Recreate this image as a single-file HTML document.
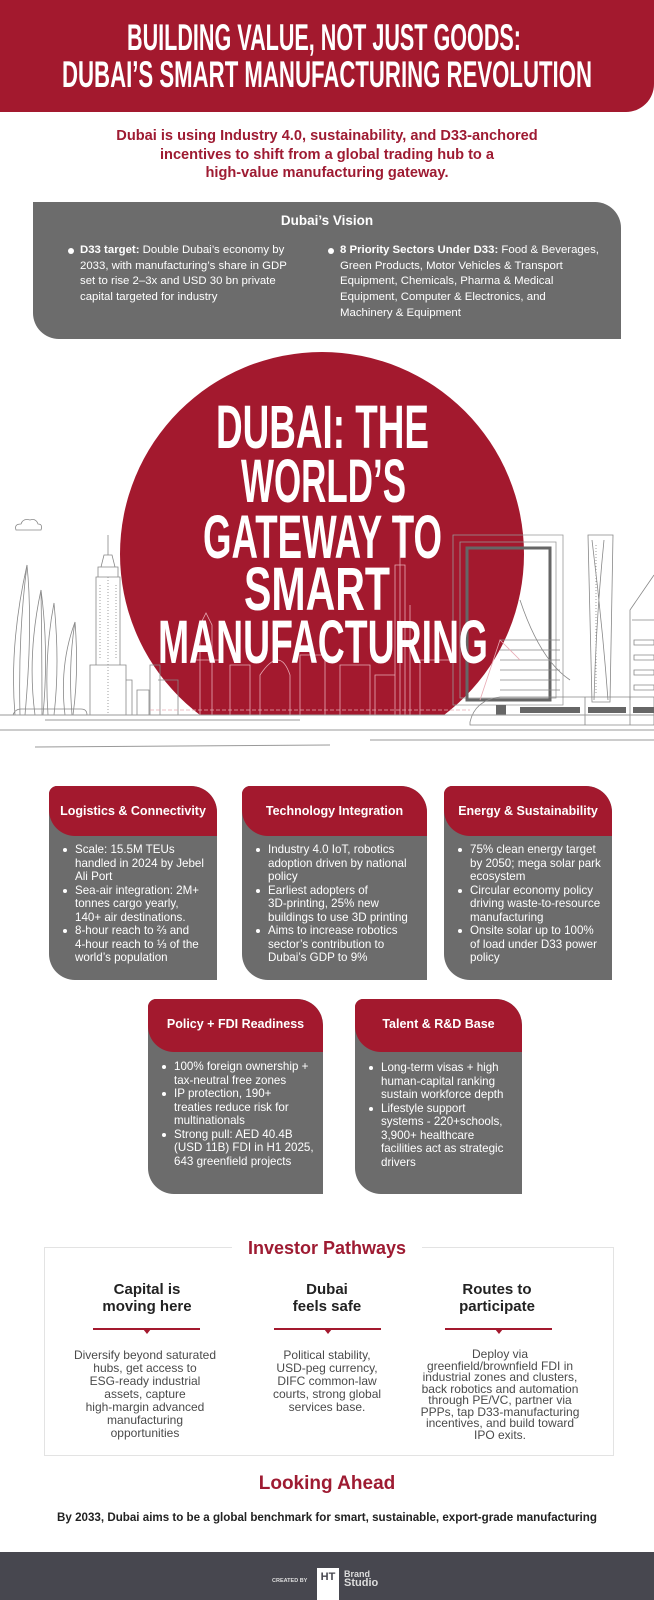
<!DOCTYPE html>
<html><head><meta charset="utf-8">
<style>
*{margin:0;padding:0;box-sizing:border-box}
body{width:654px;height:1600px;position:relative;background:#fff;font-family:"Liberation Sans",sans-serif;overflow:hidden}
.abs{position:absolute}
.card{position:absolute;background:#6c6c6c;border-radius:8px 26px 0 26px;overflow:hidden}
.card .hd{position:absolute;left:0;top:0;right:0;background:#a3192e;border-radius:0 26px 0 26px;color:#fff;font-weight:bold;font-size:12.5px;text-align:center}
.card .bd{position:absolute;left:0;color:#fff;font-size:11.6px;line-height:13.5px;white-space:nowrap}
.li{position:relative;padding-left:26px}
.li:before{content:"";position:absolute;left:14px;top:5px;width:4px;height:4px;border-radius:50%;background:#fff}
.vis{font-size:11.4px;line-height:15.7px;color:#fff;white-space:nowrap;position:absolute}
.vis:before{content:"";position:absolute;left:-12px;top:5px;width:6px;height:6px;border-radius:50%;background:#fff}
.col{position:absolute;text-align:center;transform:translateX(-50%);white-space:nowrap}
.col h3{font-size:15px;line-height:17px;color:#222;font-weight:bold}
.col p{font-size:12px;color:#4a4a4a}
.div{position:absolute;height:2px;background:#a3192e}
.div:after{content:"";position:absolute;left:50%;top:1px;margin-left:-4px;border-left:4px solid transparent;border-right:4px solid transparent;border-top:5px solid #a3192e}
</style></head><body>

<!-- header -->
<div class="abs" style="left:0;top:0;width:654px;height:112px;background:#a3192e;border-radius:0 0 28px 0"></div>
<svg class="abs" style="left:0;top:0" width="654" height="112">
<g font-family="Liberation Sans Narrow, Liberation Sans, sans-serif" font-weight="bold" fill="#fff" font-size="37">
<text x="127" y="50" textLength="394" lengthAdjust="spacingAndGlyphs">BUILDING VALUE, NOT JUST GOODS:</text>
<text x="62" y="87" textLength="530" lengthAdjust="spacingAndGlyphs">DUBAI’S SMART MANUFACTURING REVOLUTION</text>
</g></svg>

<div class="abs" style="left:0;top:127px;width:654px;text-align:center;color:#9e1b32;font-weight:bold;font-size:14.6px;line-height:18.5px">
Dubai is using Industry 4.0, sustainability, and D33-anchored<br>incentives to shift from a global trading hub to a<br>high-value manufacturing gateway.</div>

<!-- vision -->
<div class="abs" style="left:33px;top:202px;width:588px;height:137px;background:#6c6c6c;border-radius:0 26px 0 26px"></div>
<div class="abs" style="left:33px;top:213px;width:588px;text-align:center;color:#fff;font-weight:bold;font-size:13.5px">Dubai’s Vision</div>
<div class="vis" style="left:80px;top:243px"><b>D33 target:</b> Double Dubai’s economy by<br>2033, with manufacturing’s share in GDP<br>set to rise 2–3x and USD 30 bn private<br>capital targeted for industry</div>
<div class="vis" style="left:340px;top:243px"><b>8 Priority Sectors Under D33:</b> Food &amp; Beverages,<br>Green Products, Motor Vehicles &amp; Transport<br>Equipment, Chemicals, Pharma &amp; Medical<br>Equipment, Computer &amp; Electronics, and<br>Machinery &amp; Equipment</div>

<!-- hero -->
<svg class="abs" style="left:0;top:340px" width="654" height="420" viewBox="0 340 654 420">
<defs><clipPath id="cc"><rect x="0" y="340" width="654" height="375"/></clipPath></defs>
<circle cx="322" cy="554" r="202" fill="#a3192e" clip-path="url(#cc)"/>
<g fill="none" stroke="#888" stroke-width="0.8">
<!-- cloud -->
<path d="M16 530 q-2-6 5-6 q2-6 9-4 q6-2 8 4 q5 0 3 6 z"/>
<!-- sculptures -->
<path d="M15 715 q-6-70 12-150 q6 60 -2 150"/><path d="M20 715 q-2-80 7-150"/>
<path d="M35 715 q-8-60 6-125 q8 60 2 125"/><path d="M42 715 q0-60 -1-125"/>
<path d="M48 715 q-4-60 6-112 q6 60 0 112"/>
<path d="M65 715 q-6-50 10-93 q4 50 -2 93"/><path d="M72 715 q-4-50 3-93"/>
<path d="M13 715 q2-6 8-6 h60 q6 0 6 6"/>
<!-- empire -->
<path d="M108 535 v20 M104 555 h8 l3 12 h-14 z M98 567 h20 v10 h-20 z M96 577 h24 v88 h-24 z M90 665 h36 v50 h-36 z M126 680 h6 v35 h-6"/>
<path d="M108 577 v138" stroke-dasharray="1 2"/>
<path d="M100 585 v75 M116 585 v75" stroke-dasharray="1 2"/>
<!-- small building -->
<path d="M137 690 h12 v25 h-12 z M150 665 h10 v50 h-10 z M158 680 h20 v35"/>
<!-- frame -->
<path d="M453 535 h110 v170 h-110 z M460 542 h96 v156 h-96 z" stroke="#999"/>
<rect x="467" y="548" width="83" height="152" stroke="#666" stroke-width="3"/>
<path d="M520 600 q20 60 50 80 M500 640 h60 M500 650 h60 M500 660 h60 M500 670 h60 M500 680 h60 M500 690 h60"/>
<!-- twisted tower -->
<path d="M588 535 h25 l-3 167 h-18 z M592 540 q10 80 16 160 M604 540 q-8 80 -10 160"/>
<path d="M596 545 v150" stroke-dasharray="1 2"/>
<!-- right building -->
<path d="M630 700 v-90 l24 -35" /><path d="M632 620 h22 M634 640 h20 v5 h-20z M634 655 h20 v5 h-20z M634 670 h20 v5 h-20z M634 685 h20 v5 h-20z"/>
<!-- train -->
<path d="M470 722 q5-22 30-25 h154 v28 h-184 z" stroke="#888"/>
<path d="M585 697 v28 M630 697 v28"/>
</g>
<g fill="#666"><rect x="520" y="707" width="60" height="6"/><rect x="588" y="707" width="38" height="6"/><rect x="633" y="707" width="21" height="6"/><rect x="496" y="705" width="10" height="10"/></g>
<!-- white line buildings in circle -->
<g fill="none" stroke="#e8aab4" stroke-width="0.8" clip-path="url(#cc)">
<path d="M200 715 v-90 l6-12 l6 12 v90 M195 660 h24"/>
<path d="M230 715 v-50 h20 v50 M260 715 v-40 q20-30 30 0 v40 M300 715 v-60 h25 v60"/>
<path d="M400 715 v-200 M395 715 v-150 h10 v150 M410 715 v-110"/>
<path d="M340 715 v-50 h30 v50 M375 715 v-40 h20 M420 715 v-55 h30"/>
<path d="M480 700 l20-60 l20 20"/>
<path d="M150 710 h320" stroke-dasharray="4 2"/>
</g>
<g stroke="#999" stroke-width="1" fill="none">
<line x1="0" y1="715" x2="654" y2="715"/>
<line x1="45" y1="720" x2="300" y2="720"/>
<line x1="0" y1="730" x2="654" y2="730"/>
<line x1="370" y1="740" x2="654" y2="740"/>
<line x1="35" y1="747" x2="330" y2="745"/>
</g>
<g font-family="Liberation Sans Narrow, Liberation Sans, sans-serif" font-weight="bold" fill="#fff" font-size="61">
<text x="216" y="448" textLength="213" lengthAdjust="spacingAndGlyphs">DUBAI: THE</text>
<text x="241" y="502" textLength="165" lengthAdjust="spacingAndGlyphs">WORLD’S</text>
<text x="203" y="558" textLength="239" lengthAdjust="spacingAndGlyphs">GATEWAY TO</text>
<text x="244" y="610" textLength="146" lengthAdjust="spacingAndGlyphs">SMART</text>
<text x="158" y="663" textLength="330" lengthAdjust="spacingAndGlyphs">MANUFACTURING</text>
</g>
</svg>

<!-- cards row 1 -->
<div class="card" style="left:49px;top:786px;width:168px;height:194px">
<div class="hd" style="height:50px;line-height:50px">Logistics &amp; Connectivity</div>
<div class="bd" style="top:57px">
<div class="li">Scale: 15.5M TEUs<br>handled in 2024 by Jebel<br>Ali Port</div>
<div class="li">Sea-air integration: 2M+<br>tonnes cargo yearly,<br>140+ air destinations.</div>
<div class="li">8-hour reach to ⅔ and<br>4-hour reach to ⅓ of the<br>world’s population</div>
</div></div>
<div class="card" style="left:242px;top:786px;width:185px;height:194px">
<div class="hd" style="height:50px;line-height:50px">Technology Integration</div>
<div class="bd" style="top:57px">
<div class="li">Industry 4.0 IoT, robotics<br>adoption driven by national<br>policy</div>
<div class="li">Earliest adopters of<br>3D-printing, 25% new<br>buildings to use 3D printing</div>
<div class="li">Aims to increase robotics<br>sector’s contribution to<br>Dubai’s GDP to 9%</div>
</div></div>
<div class="card" style="left:444px;top:786px;width:168px;height:194px">
<div class="hd" style="height:50px;line-height:50px">Energy &amp; Sustainability</div>
<div class="bd" style="top:57px">
<div class="li">75% clean energy target<br>by 2050; mega solar park<br>ecosystem</div>
<div class="li">Circular economy policy<br>driving waste-to-resource<br>manufacturing</div>
<div class="li">Onsite solar up to 100%<br>of load under D33 power<br>policy</div>
</div></div>

<!-- cards row 2 -->
<div class="card" style="left:148px;top:999px;width:175px;height:195px">
<div class="hd" style="height:53px;line-height:50px">Policy + FDI Readiness</div>
<div class="bd" style="top:61px">
<div class="li">100% foreign ownership +<br>tax-neutral free zones</div>
<div class="li">IP protection, 190+<br>treaties reduce risk for<br>multinationals</div>
<div class="li">Strong pull: AED 40.4B<br>(USD 11B) FDI in H1 2025,<br>643 greenfield projects</div>
</div></div>
<div class="card" style="left:355px;top:999px;width:167px;height:195px">
<div class="hd" style="height:53px;line-height:50px">Talent &amp; R&amp;D Base</div>
<div class="bd" style="top:62px">
<div class="li">Long-term visas + high<br>human-capital ranking<br>sustain workforce depth</div>
<div class="li">Lifestyle support<br>systems - 220+schools,<br>3,900+ healthcare<br>facilities act as strategic<br>drivers</div>
</div></div>

<!-- investor pathways -->
<div class="abs" style="left:44px;top:1247px;width:570px;height:209px;border:1.5px solid #e3e3e3"></div>
<div class="abs" style="left:232px;top:1235px;width:190px;height:26px;background:#fff;text-align:center;color:#9e1b32;font-weight:bold;font-size:18px;line-height:26px">Investor Pathways</div>
<div class="col" style="left:147px;top:1281px"><h3>Capital is<br>moving here</h3></div>
<div class="col" style="left:327px;top:1281px"><h3>Dubai<br>feels safe</h3></div>
<div class="col" style="left:497px;top:1281px"><h3>Routes to<br>participate</h3></div>
<div class="div" style="left:93px;top:1328px;width:107px"></div>
<div class="div" style="left:274px;top:1328px;width:107px"></div>
<div class="div" style="left:445px;top:1328px;width:107px"></div>
<div class="col" style="left:145px;top:1349px"><p style="line-height:13px">Diversify beyond saturated<br>hubs, get access to<br>ESG-ready industrial<br>assets, capture<br>high-margin advanced<br>manufacturing<br>opportunities</p></div>
<div class="col" style="left:327px;top:1349px"><p style="line-height:13px">Political stability,<br>USD-peg currency,<br>DIFC common-law<br>courts, strong global<br>services base.</p></div>
<div class="col" style="left:500px;top:1349px"><p style="line-height:11.5px">Deploy via<br>greenfield/brownfield FDI in<br>industrial zones and clusters,<br>back robotics and automation<br>through PE/VC, partner via<br>PPPs, tap D33-manufacturing<br>incentives, and build toward<br>IPO exits.</p></div>

<div class="abs" style="left:0;top:1473px;width:654px;text-align:center;color:#9e1b32;font-weight:bold;font-size:19px">Looking Ahead</div>
<div class="abs" style="left:0;top:1511px;width:654px;text-align:center;color:#222;font-weight:bold;font-size:11.6px">By 2033, Dubai aims to be a global benchmark for smart, sustainable, export-grade manufacturing</div>

<!-- footer -->
<div class="abs" style="left:0;top:1552px;width:654px;height:48px;background:#47474f"></div>
<div class="abs" style="left:272px;top:1578px;color:#ddd;font-size:5.5px;font-weight:bold">CREATED BY</div>
<div class="abs" style="left:317px;top:1568px;width:22px;height:32px;background:#fff;color:#47474f;font-weight:bold;font-size:11px;text-align:center;line-height:18px">HT</div>
<div class="abs" style="left:344px;top:1570px;color:#ddd;font-size:9px;font-weight:bold;line-height:9px">Brand<br><span style="font-size:11px">Studio</span></div>
</body></html>
